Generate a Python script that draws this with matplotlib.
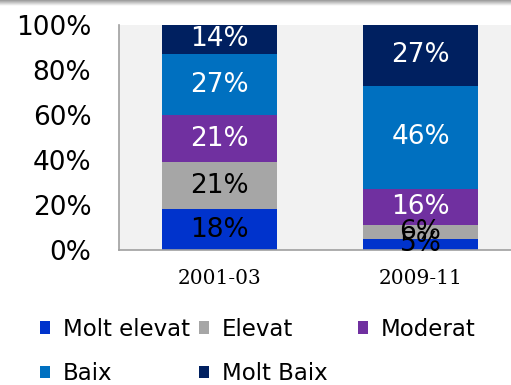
import numpy as np
import matplotlib
matplotlib.use("Agg")
import matplotlib.pyplot as plt

periods = ["2001-03", "2009-11"]
categories = ["Molt elevat", "Elevat", "Moderat", "Baix", "Molt Baix"]
values = {
    "Molt elevat": [18, 5],
    "Elevat": [21, 6],
    "Moderat": [21, 16],
    "Baix": [27, 46],
    "Molt Baix": [14, 27],
}
colors = {
    "Molt elevat": "#0033cc",
    "Elevat": "#a6a6a6",
    "Moderat": "#7030a0",
    "Baix": "#0070c0",
    "Molt Baix": "#002060",
}
text_colors = {
    "Molt elevat": "black",
    "Elevat": "black",
    "Moderat": "white",
    "Baix": "white",
    "Molt Baix": "white",
}

fig = plt.figure(figsize=(5.11, 3.85), dpi=100)
ax = fig.add_axes([0.233, 0.351, 0.767, 0.584])
ax.set_facecolor("#f2f2f2")

x = np.arange(len(periods))
bottom = np.zeros(len(periods))
handles = {}
for cat in categories:
    v = np.array(values[cat], dtype=float)
    b = ax.bar(x, v, 0.57, bottom=bottom, color=colors[cat], label=cat, zorder=2)
    handles[cat] = b
    for xi, vi, bi in zip(x, v, bottom):
        ax.text(xi, bi + vi / 2, "%d%%" % vi, ha="center", va="center",
                fontsize=19, color=text_colors[cat], zorder=3)
    bottom += v

ax.set_xlim(-0.5, 1.45)
ax.set_ylim(0, 100)
ax.set_yticks(range(0, 101, 20))
ax.set_yticklabels(["%d%%" % t for t in range(0, 101, 20)], fontsize=19)
ax.set_xticks(x)
ax.set_xticklabels(periods, fontsize=14.5, family="DejaVu Serif")
ax.tick_params(axis="both", length=0)
ax.tick_params(axis="y", pad=20)
ax.tick_params(axis="x", pad=14)
for s in ["top", "right"]:
    ax.spines[s].set_visible(False)
ax.spines["left"].set_color("#a0a0a0")
ax.spines["bottom"].set_color("#a0a0a0")
ax.spines["left"].set_linewidth(1.2)
ax.spines["bottom"].set_linewidth(1.2)

# legend laid out in three fixed-width columns
columns = [["Molt elevat", "Baix"], ["Elevat", "Molt Baix"], ["Moderat"]]
col_x = [0.078, 0.389, 0.700]
for cx, col in zip(col_x, columns):
    fig.legend(handles=[handles[c] for c in col], labels=col, loc="upper left",
               bbox_to_anchor=(cx, 0.175), frameon=False, fontsize=16.5,
               handlelength=0.45, handleheight=0.45, handletextpad=0.55,
               labelspacing=0.95, borderaxespad=0, borderpad=0)

# thin shadow band along the top edge
shade = fig.add_axes([0, 0.985, 1, 0.015])
shade.imshow(np.linspace(0.6, 1.0, 20).reshape(-1, 1), cmap="gray",
             aspect="auto", vmin=0, vmax=1)
shade.axis("off")

fig.savefig("out.png", dpi=100)
